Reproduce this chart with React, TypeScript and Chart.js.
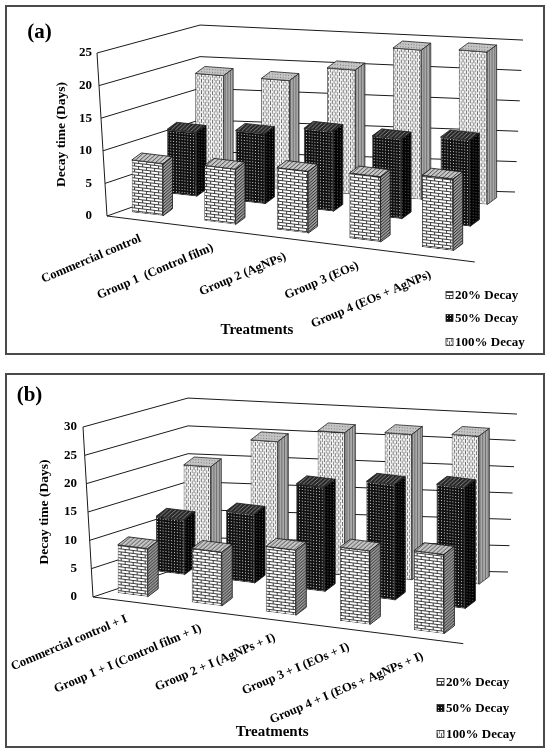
import React, { useEffect, useRef } from 'react';
import { Chart, BarController, BarElement, CategoryScale, LinearScale } from 'chart.js';
import type { Plugin } from 'chart.js';

Chart.register(BarController, BarElement, CategoryScale, LinearScale);

const FONT = '"Liberation Serif", "Times New Roman", Times, serif';

const SERIES = ['20% Decay', '50% Decay', '100% Decay'];
const Y_STEP = 5;

// panel (a)
const TREATMENTS_A = [
  'Commercial control',
  'Group 1  (Control film)',
  'Group 2 (AgNPs)',
  'Group 3 (EOs)',
  'Group 4 (EOs + AgNPs)',
];
const DECAY_20_A = [8, 8.5, 9.5, 10, 11];
const DECAY_50_A = [10, 11, 12.5, 12.5, 13.5];
const DECAY_100_A = [17.5, 17.5, 20, 24, 24.5];
const Y_MAX_A = 25;

// panel (b)
const TREATMENTS_B = [
  'Commercial control + I',
  'Group 1 + I (Control film + I)',
  'Group 2 + I (AgNPs + I)',
  'Group 3 + I (EOs + I)',
  'Group 4 + I (EOs + AgNPs + I)',
];
const DECAY_20_B = [8.5, 9.5, 11.5, 13, 14];
const DECAY_50_B = [10, 12.5, 19, 21, 22];
const DECAY_100_B = [18.5, 24, 26.5, 27, 27.5];
const Y_MAX_B = 30;

type Row = { dx: number; dy: number; sx: number; shear: number; vs: number };

interface Geom {
  pad: { top: number; right: number; bottom: number };
  axisWidth: number;
  tickPad: number;
  titlePad: number;
  barPct: number;
  slant: number;
  floor: { slope: number; extend: number };
  wall: { dx: number; dy: number; vs: number; wBottom: number; wTop: number; dropBottom: number; dropTop: number };
  rows: Row[];
  depth: { dx: number; dy: number };
  label: { dx: number; dy: number; size: number };
  axisTitle: { dx: number; dy: number };
  legend: { dx: number; rows: number[] };
  tag: { x: number; y: number };
}

// oblique "3-D column" look: every series row gets its own affine projection
const GEOM_A: Geom = {
  pad: { top: 48, right: 80.25, bottom: 139 },
  axisWidth: 97,
  tickPad: 10,
  titlePad: 48,
  barPct: 0.43,
  slant: 5,
  floor: { slope: 0.125, extend: 10 },
  wall: { dx: 98, dy: -33, vs: 0.969, wBottom: 315, wTop: 323, dropBottom: 9, dropTop: 15 },
  rows: [
    { dx: 9.1, dy: -2, sx: 1, shear: 0.12, vs: 1 },
    { dx: 43.6, dy: -21.2, sx: 0.942, shear: 0.11, vs: 0.98 },
    { dx: 71.2, dy: -32.5, sx: 0.908, shear: 0.076, vs: 0.955 },
  ],
  depth: { dx: 9.5, dy: -7 },
  label: { dx: -7, dy: 17, size: 12.5 },
  axisTitle: { dx: -26.4, dy: 114 },
  legend: { dx: -18.75, rows: [79, 102, 126] },
  tag: { x: 34.5, y: 27.5 },
};

const GEOM_B: Geom = {
  pad: { top: 54, right: 86.75, bottom: 151 },
  axisWidth: 83,
  tickPad: 11,
  titlePad: 31,
  barPct: 0.405,
  slant: 5,
  floor: { slope: 0.126, extend: 5 },
  wall: { dx: 100, dy: -32, vs: 0.982, wBottom: 320, wTop: 329, dropBottom: 7, dropTop: 16 },
  rows: [
    { dx: 7.7, dy: -2.1, sx: 1, shear: 0.125, vs: 1 },
    { dx: 45.2, dy: -24, sx: 0.947, shear: 0.121, vs: 0.97 },
    { dx: 72.2, dy: -31.5, sx: 0.905, shear: 0.067, vs: 0.95 },
  ],
  depth: { dx: 10.5, dy: -8 },
  label: { dx: -6, dy: 16.5, size: 12.5 },
  axisTitle: { dx: -1, dy: 135 },
  legend: { dx: -21.25, rows: [85, 111, 137] },
  tag: { x: 24.5, y: 22.5 },
};

interface Faces {
  front: CanvasPattern[];
  top: CanvasPattern[];
  side: CanvasPattern[];
}

function tile(w: number, h: number, paint: (c: CanvasRenderingContext2D) => void): CanvasPattern {
  const cv = document.createElement('canvas');
  cv.width = w;
  cv.height = h;
  const c = cv.getContext('2d')!;
  paint(c);
  return c.createPattern(cv, 'repeat')!;
}

function diag(c: CanvasRenderingContext2D, n: number, bg: string, fg: string) {
  c.fillStyle = bg;
  c.fillRect(0, 0, n, n);
  c.fillStyle = fg;
  for (let i = 0; i < n; i++) c.fillRect(i, n - 1 - i, 1, 1);
}

function makeFaces(): Faces {
  const brick = tile(8, 6, c => {
    c.fillStyle = '#fff';
    c.fillRect(0, 0, 8, 6);
    c.fillStyle = '#3c3c3c';
    c.fillRect(0, 2, 8, 1);
    c.fillRect(0, 5, 8, 1);
    c.fillRect(0, 0, 1, 2);
    c.fillRect(4, 3, 1, 2);
  });
  const dots = tile(3, 3, c => {
    c.fillStyle = '#121212';
    c.fillRect(0, 0, 3, 3);
    c.fillStyle = '#d6d6d6';
    c.fillRect(1, 1, 1, 1);
  });
  const dashes = tile(4, 6, c => {
    c.fillStyle = '#f3f3f3';
    c.fillRect(0, 0, 4, 6);
    c.fillStyle = '#6a6a6a';
    c.fillRect(0, 0, 1, 4);
    c.fillStyle = '#8c8c8c';
    c.fillRect(2, 3, 1, 3);
    c.fillRect(2, 0, 1, 1);
  });
  return {
    front: [brick, dots, dashes],
    top: [
      tile(4, 4, c => diag(c, 4, '#c8c8c8', '#4a4a4a')),
      tile(4, 4, c => diag(c, 4, '#262626', '#8a8a8a')),
      tile(3, 3, c => {
        c.fillStyle = '#c4c4c4';
        c.fillRect(0, 0, 3, 3);
        c.fillStyle = '#777';
        c.fillRect(1, 1, 1, 1);
      }),
    ],
    side: [
      tile(3, 3, c => diag(c, 3, '#a0a0a0', '#262626')),
      tile(3, 3, c => {
        c.fillStyle = '#040404';
        c.fillRect(0, 0, 3, 3);
        c.fillStyle = '#5e5e5e';
        c.fillRect(1, 1, 1, 1);
      }),
      tile(3, 4, c => {
        c.fillStyle = '#a9a9a9';
        c.fillRect(0, 0, 3, 4);
        c.fillStyle = '#6c6c6c';
        c.fillRect(0, 0, 1, 4);
      }),
    ],
  };
}

function poly(ctx: CanvasRenderingContext2D, pts: number[][], fill: CanvasPattern | string) {
  ctx.beginPath();
  ctx.moveTo(pts[0][0], pts[0][1]);
  for (let i = 1; i < pts.length; i++) ctx.lineTo(pts[i][0], pts[i][1]);
  ctx.closePath();
  ctx.fillStyle = fill;
  ctx.fill();
  ctx.stroke();
}

function box3d(g: Geom, faces: Faces): Plugin<'bar'> {
  const rowMatrix = (chart: Chart, r: number): [number, number, number, number, number, number] => {
    const x0 = chart.scales.x.getPixelForValue(0);
    const yB = chart.scales.y.getPixelForValue(0);
    const { dx, dy, sx, shear, vs } = g.rows[r];
    return [sx, shear * sx, 0, vs, x0 + dx - sx * x0, yB + dy - shear * sx * x0 - vs * yB];
  };

  return {
    id: 'box3d',
    beforeDatasetsDraw(chart) {
      const { ctx, chartArea } = chart;
      const ys = chart.scales.y;
      const L = chartArea.left;
      const yB = ys.getPixelForValue(0);
      const max = ys.max;
      const w = g.wall;
      const backX = L + w.dx;
      ctx.save();
      ctx.strokeStyle = '#1a1a1a';
      ctx.lineWidth = 1;
      // walls: side wall and back wall gridlines at the y ticks
      ys.ticks.forEach(t => {
        const f = t.value / max;
        const yF = ys.getPixelForValue(t.value);
        const fx = L + g.slant - 2 * g.slant * f;
        const by = yB + w.dy + w.vs * (yF - yB);
        const rx = backX + w.wBottom + (w.wTop - w.wBottom) * f;
        const ry = by + w.dropBottom + (w.dropTop - w.dropBottom) * f;
        ctx.beginPath();
        ctx.moveTo(fx, yF);
        ctx.lineTo(backX, by);
        ctx.lineTo(rx, ry);
        ctx.stroke();
      });
      // front edge of the side wall and of the floor
      const fx0 = L + g.slant;
      const xEnd = chartArea.right + g.floor.extend;
      ctx.beginPath();
      ctx.moveTo(L - g.slant, ys.getPixelForValue(max));
      ctx.lineTo(fx0, yB);
      ctx.lineTo(xEnd, yB + g.floor.slope * (xEnd - fx0));
      ctx.stroke();
      ctx.restore();
    },
    beforeDatasetDraw(chart, args) {
      chart.ctx.save();
      chart.ctx.transform(...rowMatrix(chart, args.index));
    },
    afterDatasetDraw(chart, args) {
      const ctx = chart.ctx;
      const r = args.index;
      const row = g.rows[r];
      // depth vector given in screen space, undo the row projection
      const tdx = g.depth.dx / row.sx;
      const tdy = (g.depth.dy - row.shear * g.depth.dx) / row.vs;
      ctx.strokeStyle = '#1a1a1a';
      ctx.lineWidth = 0.8;
      ctx.lineJoin = 'round';
      args.meta.data.forEach(el => {
        const { x, y, base, width } = (el as any).getProps(['x', 'y', 'base', 'width'], true);
        const l = x - width / 2;
        const rr = x + width / 2;
        const top = Math.min(y, base);
        const bot = Math.max(y, base);
        poly(ctx, [[l, top], [rr, top], [rr + tdx, top + tdy], [l + tdx, top + tdy]], faces.top[r]);
        poly(ctx, [[rr, top], [rr + tdx, top + tdy], [rr + tdx, bot + tdy], [rr, bot]], faces.side[r]);
      });
      ctx.restore();
    },
    afterDraw(chart) {
      const { ctx, chartArea } = chart;
      const xs = chart.scales.x;
      const ys = chart.scales.y;
      const yB = ys.getPixelForValue(0);
      const fx0 = chartArea.left + g.slant;
      ctx.save();
      ctx.fillStyle = '#000';

      // category labels along the front edge of the floor
      ctx.font = `bold ${g.label.size}px ${FONT}`;
      ctx.textAlign = 'right';
      ctx.textBaseline = 'middle';
      (chart.data.labels as string[]).forEach((lab, i) => {
        const X = xs.getPixelForValue(i) + g.rows[0].dx;
        const Y = yB + g.floor.slope * (X - fx0);
        ctx.save();
        ctx.translate(X + g.label.dx, Y + g.label.dy);
        ctx.rotate((-23 * Math.PI) / 180);
        ctx.fillText(lab, 0, 0);
        ctx.restore();
      });

      // axis title
      ctx.font = `bold 15px ${FONT}`;
      ctx.textAlign = 'center';
      ctx.fillText('Treatments', (chartArea.left + chartArea.right) / 2 + g.axisTitle.dx, chartArea.bottom + g.axisTitle.dy);

      // legend
      ctx.font = `bold 13px ${FONT}`;
      ctx.textAlign = 'left';
      ctx.strokeStyle = '#222';
      ctx.lineWidth = 0.8;
      chart.data.datasets.forEach((ds, r) => {
        const sx = chartArea.right + g.legend.dx;
        const sy = chartArea.bottom + g.legend.rows[r];
        ctx.fillStyle = faces.front[r];
        ctx.fillRect(sx, sy - 3.5, 7, 7);
        ctx.strokeRect(sx, sy - 3.5, 7, 7);
        ctx.fillStyle = '#000';
        ctx.fillText(String(ds.label), sx + 9, sy + 0.5);
      });
      ctx.restore();
    },
  };
}

interface PanelProps {
  tag: string;
  top: number;
  height: number;
  labels: string[];
  series: number[][];
  yMax: number;
  geom: Geom;
}

function DecayPanel({ tag, top, height, labels, series, yMax, geom }: PanelProps) {
  const canvasRef = useRef<HTMLCanvasElement>(null);

  useEffect(() => {
    const canvas = canvasRef.current;
    if (!canvas) return;
    const faces = makeFaces();
    const g = geom;

    const tagPlugin: Plugin<'bar'> = {
      id: 'panelTag',
      afterDraw(chart) {
        const ctx = chart.ctx;
        ctx.save();
        ctx.font = `bold 21px ${FONT}`;
        ctx.fillStyle = '#000';
        ctx.textAlign = 'center';
        ctx.textBaseline = 'middle';
        ctx.fillText(tag, g.tag.x, g.tag.y);
        ctx.restore();
      },
    };

    const chart = new Chart(canvas, {
      type: 'bar',
      data: {
        labels,
        datasets: SERIES.map((label, r) => ({
          label,
          data: series[r],
          backgroundColor: faces.front[r],
          borderColor: '#1a1a1a',
          borderWidth: 0.8,
          borderSkipped: false,
          grouped: false,
          clip: false as any,
          barPercentage: g.barPct,
          categoryPercentage: 1,
        })),
      },
      options: {
        animation: false,
        responsive: false,
        events: [],
        layout: { padding: { top: g.pad.top, right: g.pad.right, bottom: g.pad.bottom, left: 0 } },
        plugins: {
          legend: { display: false },
          tooltip: { enabled: false },
        },
        scales: {
          x: { display: false },
          y: {
            min: 0,
            max: yMax,
            ticks: {
              stepSize: Y_STEP,
              padding: g.tickPad,
              color: '#000',
              font: { family: FONT, size: 13, weight: 'bold' },
            },
            grid: { display: false, drawTicks: false },
            border: { display: false },
            title: {
              display: true,
              text: 'Decay time (Days)',
              color: '#000',
              font: { family: FONT, size: 13.5, weight: 'bold' },
              padding: { top: g.titlePad, bottom: 0 },
            },
            afterFit: axis => {
              axis.width = g.axisWidth;
            },
          },
        },
      },
      plugins: [box3d(g, faces), tagPlugin],
    });

    return () => {
      chart.destroy();
    };
  }, [tag, labels, series, yMax, geom]);

  return (
    <div style={{ position: 'absolute', left: 5, top, width: 540, height, background: '#fff' }}>
      <canvas ref={canvasRef} width={540} height={height} style={{ display: 'block' }} />
      <div
        style={{
          position: 'absolute',
          inset: 0,
          border: '2px solid #4a4a4a',
          boxSizing: 'border-box',
          pointerEvents: 'none',
        }}
      />
    </div>
  );
}

const SERIES_A = [DECAY_20_A, DECAY_50_A, DECAY_100_A];
const SERIES_B = [DECAY_20_B, DECAY_50_B, DECAY_100_B];

export default function App() {
  return (
    <div style={{ position: 'absolute', left: 0, top: 0, width: 550, height: 755, background: '#fff' }}>
      <DecayPanel tag="(a)" top={5} height={350} labels={TREATMENTS_A} series={SERIES_A} yMax={Y_MAX_A} geom={GEOM_A} />
      <DecayPanel tag="(b)" top={373} height={375} labels={TREATMENTS_B} series={SERIES_B} yMax={Y_MAX_B} geom={GEOM_B} />
    </div>
  );
}
